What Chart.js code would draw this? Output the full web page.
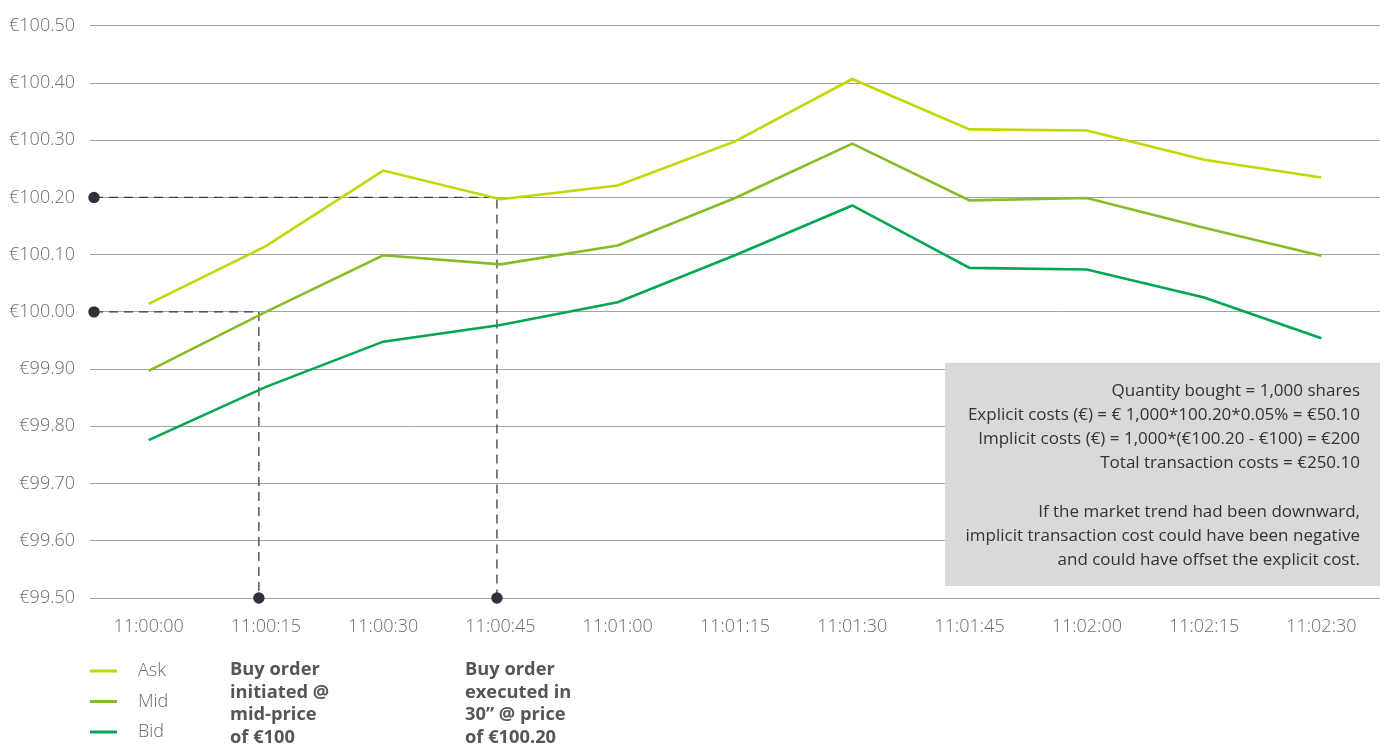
<!DOCTYPE html>
<html>
<head>
<meta charset="utf-8">
<script src="https://cdn.jsdelivr.net/npm/chart.js@4.4.1/dist/chart.umd.min.js"></script>
<style>
  html, body { margin: 0; padding: 0; background: #ffffff; }
  #wrap { position: relative; width: 1384px; height: 745px; }
</style>
</head>
<body>
<div id="wrap"><canvas id="c"></canvas></div>
<script>
// ---- data ----
const times = ["11:00:00","11:00:15","11:00:30","11:00:45","11:01:00","11:01:15","11:01:30","11:01:45","11:02:00","11:02:15","11:02:30"];
const askPrices = [100.014, 100.115, 100.247, 100.197, 100.221, 100.298, 100.407, 100.319, 100.317, 100.266, 100.235];
const midPrices = [99.897, 100.000, 100.099, 100.083, 100.116, 100.199, 100.294, 100.195, 100.199, 100.147, 100.098];
const bidPrices = [99.776, 99.869, 99.948, 99.977, 100.017, 100.099, 100.186, 100.077, 100.074, 100.025, 99.954];
const seriesNames = ["Ask", "Mid", "Bid"];
const yMin = 99.50, yMax = 100.50, yStep = 0.10;

// order markers: [x position (category index), price]
const orderInitiated = [0.94, 100.00];
const orderExecuted = [2.97, 100.20];

const noteInitiated = ["Buy order", "initiated @", "mid-price", "of €100"];
const noteExecuted = ["Buy order", "executed in", "30” @ price", "of €100.20"];
const boxLines = [
  "Quantity bought = 1,000 shares",
  "Explicit costs (€) = € 1,000*100.20*0.05% = €50.10",
  "Implicit costs (€) = 1,000*(€100.20 - €100) = €200",
  "Total transaction costs = €250.10",
  "",
  "If the market trend had been downward,",
  "implicit transaction cost could have been negative",
  "and could have offset the explicit cost."
];
// box extent in data units: [x index left, price top, price bottom]
const boxArea = [6.79, 99.911, 99.521];

// ---- style ----
const colors = ["#C4D600", "#86BC25", "#00A651"];
const axisText = "#6b6b6b";
const darkMark = "#2f313a";
const FONT = "'Open Sans', 'Noto Sans', sans-serif";

const annotations = {
  id: "annotations",
  beforeDatasetsDraw(chart) {
    const ctx = chart.ctx, xs = chart.scales.x, ys = chart.scales.y, ca = chart.chartArea;
    ctx.save();
    ctx.strokeStyle = "#3a3c44";
    ctx.lineWidth = 1.3;
    ctx.setLineDash([9, 6]);
    [orderInitiated, orderExecuted].forEach(([xi, p]) => {
      const x = xs.getPixelForValue(xi);
      const y = ys.getPixelForValue(p);
      ctx.beginPath();
      ctx.moveTo(ca.left + 4, y);
      ctx.lineTo(x, y);
      ctx.lineTo(x, ys.getPixelForValue(yMin));
      ctx.stroke();
    });
    ctx.restore();
  },
  afterDatasetsDraw(chart) {
    const ctx = chart.ctx, xs = chart.scales.x, ys = chart.scales.y, ca = chart.chartArea;
    ctx.save();
    // dots
    ctx.fillStyle = darkMark;
    [orderInitiated, orderExecuted].forEach(([xi, p]) => {
      const x = xs.getPixelForValue(xi);
      const y = ys.getPixelForValue(p);
      [[ca.left + 4, y], [x, ys.getPixelForValue(yMin)]].forEach(([px, py]) => {
        ctx.beginPath();
        ctx.arc(px, py, 5.7, 0, Math.PI * 2);
        ctx.fill();
      });
    });
    // grey box
    const bx = xs.getPixelForValue(boxArea[0]);
    const bt = ys.getPixelForValue(boxArea[1]);
    const bb = ys.getPixelForValue(boxArea[2]);
    ctx.fillStyle = "#d9d9d9";
    ctx.fillRect(bx, bt, ca.right - bx, bb - bt);
    ctx.fillStyle = "#333333";
    ctx.font = "17px " + FONT;
    ctx.textAlign = "right";
    ctx.textBaseline = "middle";
    boxLines.forEach((t, i) => {
      ctx.fillText(t, ca.right - 20, bt + 28 + i * 24.2);
    });
    ctx.restore();
  },
  afterDraw(chart) {
    const ctx = chart.ctx, ca = chart.chartArea;
    ctx.save();
    // legend
    seriesNames.forEach((n, i) => {
      const y = 671 + i * 30.5;
      ctx.strokeStyle = colors[i];
      ctx.lineWidth = 3;
      ctx.beginPath();
      ctx.moveTo(ca.left, y);
      ctx.lineTo(ca.left + 27, y);
      ctx.stroke();
      ctx.fillStyle = axisText;
      ctx.font = "300 18px " + FONT;
      ctx.textAlign = "left";
      ctx.textBaseline = "middle";
      ctx.fillText(n, ca.left + 48, y);
    });
    // notes
    ctx.fillStyle = "#53565A";
    ctx.font = "bold 18.3px " + FONT;
    ctx.textAlign = "left";
    ctx.textBaseline = "middle";
    noteInitiated.forEach((t, i) => ctx.fillText(t, 230, 670 + i * 22.6));
    noteExecuted.forEach((t, i) => ctx.fillText(t, 465, 670 + i * 22.6));
    ctx.restore();
  }
};

new Chart(document.getElementById("c"), {
  type: "line",
  data: {
    labels: times,
    datasets: [askPrices, midPrices, bidPrices].map((d, i) => ({
      label: seriesNames[i],
      data: d,
      borderColor: colors[i],
      backgroundColor: colors[i],
      borderWidth: 2.6,
      pointRadius: 0,
      tension: 0,
      fill: false
    }))
  },
  options: {
    responsive: true,
    maintainAspectRatio: false,
    animation: false,
    layout: { padding: { top: 24, right: 4, left: 0, bottom: 0 } },
    plugins: { legend: { display: false }, tooltip: { enabled: false }, title: { display: false } },
    scales: {
      x: {
        offset: true,
        grid: { display: false, drawTicks: false },
        border: { display: false },
        ticks: { color: axisText, font: { family: FONT, size: 18, weight: "300" }, padding: 18, maxRotation: 0, autoSkip: false },
        afterFit(s) { s.height = 147; }
      },
      y: {
        min: yMin, max: yMax,
        grid: { color: "#a3a3a3", lineWidth: 1, drawTicks: false },
        border: { display: false },
        ticks: {
          stepSize: yStep,
          color: axisText,
          font: { family: FONT, size: 18, weight: "300" },
          padding: 15,
          callback: v => "€" + Number(v).toFixed(2)
        },
        afterFit(s) { s.width = 90; }
      }
    }
  },
  plugins: [annotations]
});
</script>
</body>
</html>
